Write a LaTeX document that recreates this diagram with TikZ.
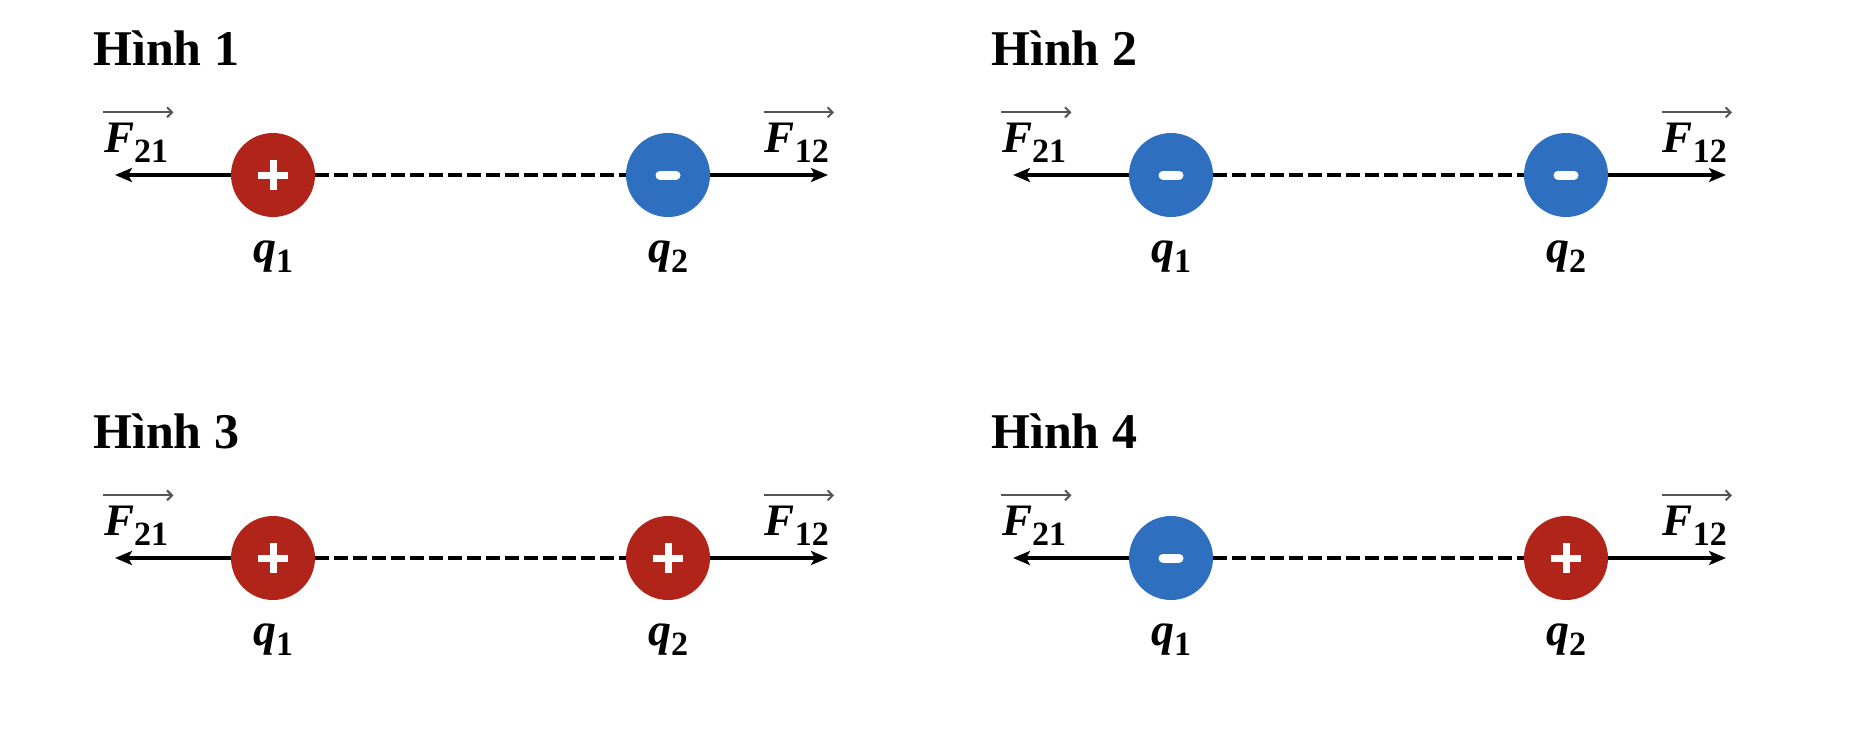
\documentclass[tikz,border=0pt]{standalone}
\usepackage{fontspec}
\setmainfont{Liberation Serif}
\usetikzlibrary{arrows.meta}
\definecolor{chargered}{HTML}{B0241A}
\definecolor{chargeblue}{HTML}{2E6FBF}
\definecolor{overgray}{HTML}{555555}
\tikzset{
  charge/.style={circle, minimum size=84pt, inner sep=0pt, draw=none},
  poscharge/.style={charge, fill=chargered, path picture={
      \draw[white, line width=7pt] ([xshift=-15pt]path picture bounding box.center) -- ([xshift=15pt]path picture bounding box.center);
      \draw[white, line width=7pt] ([yshift=-15pt]path picture bounding box.center) -- ([yshift=15pt]path picture bounding box.center);}},
  negcharge/.style={charge, fill=chargeblue, path picture={
      \draw[white, line width=9pt, line cap=round] ([xshift=-8pt]path picture bounding box.center) -- ([xshift=8pt]path picture bounding box.center);}},
  ghost/.style={circle, minimum size=84pt, inner sep=0pt},
  title/.style={anchor=base west, inner sep=0pt, font=\fontsize{50}{60}\selectfont\bfseries},
  flabel/.style={inner sep=0pt, font=\fontsize{45}{50}\selectfont\bfseries\itshape},
  qlabel/.style={anchor=base, inner sep=0pt, font=\fontsize{46}{50}\selectfont\bfseries\itshape},
  force/.style={line width=4pt, -{Stealth[length=17pt,width=14pt,inset=4pt]}},
  link/.style={line width=4pt, dash pattern=on 14pt off 5pt},
  overarr/.style={draw=overgray, line width=2pt, -{Straight Barb[length=5pt,width=10pt]}}
}
\newcommand{\subdig}[1]{\raisebox{-10pt}{\fontsize{34}{36}\selectfont\upshape\bfseries #1}}
\begin{document}
\begin{tikzpicture}[x=1pt, y=-1pt]
\useasboundingbox (0,0) rectangle (1856,744);
\foreach \i/\dx/\dy/\a/\b in {1/0/0/poscharge/negcharge, 2/898/0/negcharge/negcharge, 3/0/383/poscharge/poscharge, 4/898/383/negcharge/poscharge}{
  \begin{scope}[shift={(\dx,\dy)}]
    \node[title] (t\i) at (93,65) {Hình \i};
    \node[ghost] (ga\i) at (273,175) {};
    \node[ghost] (gb\i) at (668,175) {};
    \coordinate (la\i) at (115,175);
    \coordinate (rb\i) at (828,175);
    \draw[link] (ga\i.east) -- (gb\i.west);
    \draw[force] (ga\i.west) -- (la\i);
    \draw[force] (gb\i.east) -- (rb\i);
    \node[\a] (qa\i) at (ga\i) {};
    \node[\b] (qb\i) at (gb\i) {};
    \node[flabel, anchor=base west] (fl\i) at (104,152) {F\subdig{21}};
    \node[flabel, anchor=base east] (fr\i) at (829,152) {F\subdig{12}};
    \draw[overarr] ([xshift=-1pt,yshift=10pt]fl\i.north west) -- ([xshift=5pt,yshift=10pt]fl\i.north east);
    \draw[overarr] ([xshift=-1pt,yshift=10pt]fr\i.north west) -- ([xshift=5pt,yshift=10pt]fr\i.north east);
    \node[qlabel] (ql\i) at (273,262) {q\subdig{1}};
    \node[qlabel] (qr\i) at (668,262) {q\subdig{2}};
  \end{scope}
}
\end{tikzpicture}
\end{document}
